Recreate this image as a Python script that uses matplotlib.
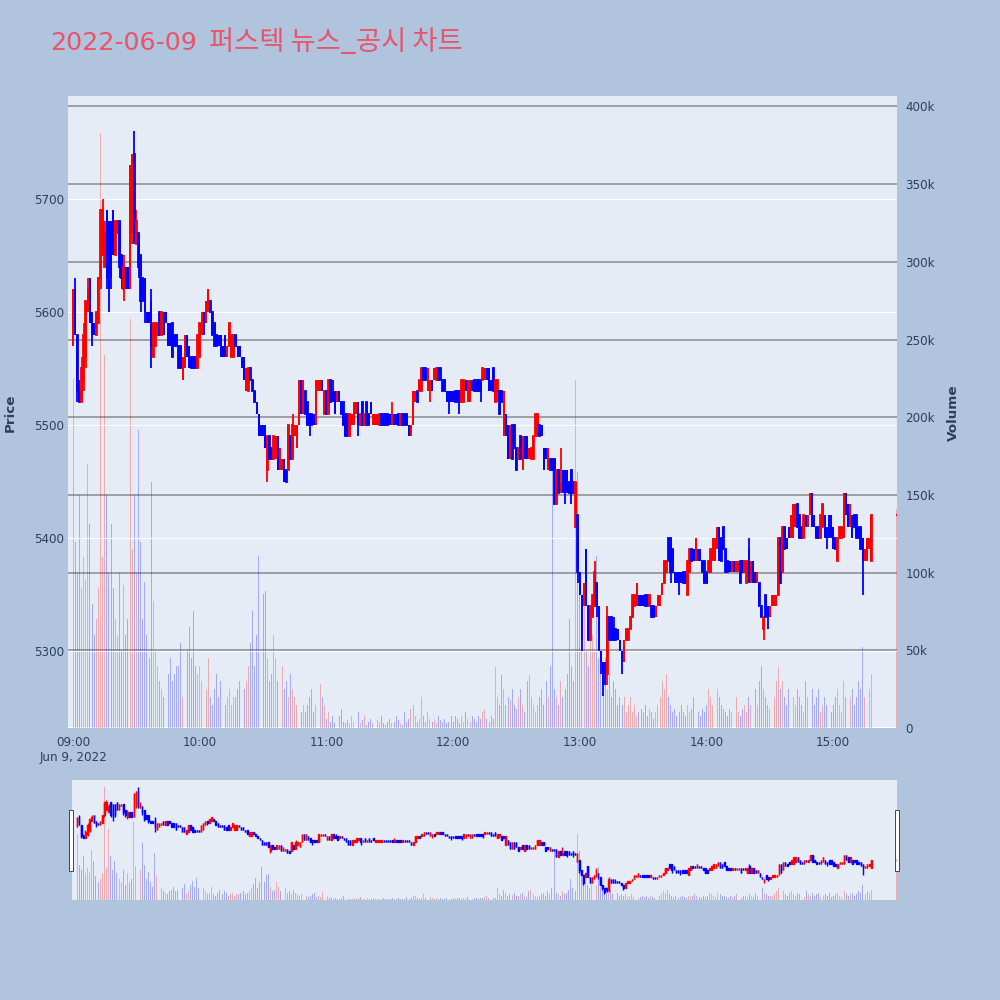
import matplotlib
matplotlib.use("Agg")
import matplotlib.pyplot as plt
from matplotlib.patches import Rectangle

plt.rcParams['font.family'] = ['DejaVu Sans', 'Noto Sans CJK KR']

title_date = "2022-06-09"
title_name = "퍼스텍 뉴스_공시 차트"

# minutes after 09:00 (continuous session 09:00-15:18, closing auction 15:30)
minutes = list(range(379)) + [390]

opens = [
    5570, 5620, 5580, 5530, 5520, 5540, 5560, 5600, 5630, 5600,  # 09:00
    5590, 5580, 5590, 5630, 5650, 5640, 5690, 5680, 5680, 5690,  # 09:10
    5650, 5670, 5680, 5650, 5620, 5640, 5640, 5620, 5670, 5740,  # 09:20
    5660, 5670, 5650, 5630, 5630, 5600, 5600, 5610, 5560, 5570,  # 09:30
    5580, 5600, 5580, 5600, 5600, 5590, 5590, 5590, 5580, 5580,  # 09:40
    5570, 5570, 5540, 5550, 5580, 5570, 5560, 5560, 5560, 5550,  # 09:50
    5560, 5580, 5600, 5590, 5600, 5610, 5600, 5590, 5580, 5580,  # 10:00
    5580, 5570, 5580, 5560, 5570, 5560, 5560, 5580, 5570, 5570,  # 10:10
    5560, 5560, 5530, 5530, 5550, 5540, 5530, 5520, 5510, 5500,  # 10:20
    5500, 5500, 5460, 5490, 5480, 5470, 5470, 5490, 5460, 5460,  # 10:30
    5470, 5460, 5460, 5490, 5470, 5490, 5480, 5500, 5540, 5510,  # 10:40
    5530, 5520, 5510, 5510, 5510, 5500, 5530, 5530, 5540, 5510,  # 10:50
    5530, 5510, 5540, 5530, 5530, 5520, 5530, 5520, 5520, 5510,  # 11:00
    5510, 5490, 5500, 5500, 5510, 5520, 5500, 5520, 5500, 5520,  # 11:10
    5510, 5520, 5500, 5500, 5500, 5500, 5510, 5510, 5510, 5510,  # 11:20
    5510, 5500, 5510, 5510, 5510, 5500, 5510, 5510, 5510, 5500,  # 11:30
    5490, 5500, 5520, 5530, 5530, 5530, 5550, 5550, 5530, 5530,  # 11:40
    5540, 5540, 5540, 5550, 5550, 5540, 5540, 5530, 5530, 5530,  # 11:50
    5530, 5530, 5530, 5530, 5520, 5520, 5540, 5520, 5520, 5540,  # 12:00
    5540, 5540, 5540, 5540, 5540, 5540, 5550, 5550, 5540, 5550,  # 12:10
    5520, 5530, 5530, 5530, 5490, 5510, 5500, 5470, 5500, 5500,  # 12:20
    5480, 5470, 5490, 5460, 5490, 5490, 5470, 5470, 5470, 5490,  # 12:30
    5490, 5500, 5500, 5480, 5480, 5460, 5470, 5470, 5470, 5430,  # 12:40
    5460, 5440, 5460, 5460, 5460, 5450, 5460, 5450, 5410, 5420,  # 12:50
    5370, 5350, 5340, 5390, 5340, 5310, 5330, 5340, 5360, 5340,  # 13:00
    5300, 5290, 5290, 5280, 5330, 5330, 5320, 5320, 5320, 5310,  # 13:10
    5300, 5290, 5310, 5310, 5320, 5330, 5340, 5340, 5350, 5350,  # 13:20
    5350, 5350, 5350, 5340, 5340, 5340, 5330, 5340, 5340, 5350,  # 13:30
    5360, 5370, 5400, 5400, 5390, 5370, 5370, 5370, 5370, 5370,  # 13:40
    5370, 5350, 5370, 5390, 5390, 5380, 5390, 5390, 5380, 5380,  # 13:50
    5370, 5370, 5370, 5380, 5380, 5390, 5410, 5400, 5410, 5390,  # 14:00
    5380, 5380, 5370, 5380, 5370, 5370, 5380, 5380, 5370, 5360,  # 14:10
    5390, 5360, 5380, 5370, 5360, 5360, 5340, 5320, 5350, 5340,  # 14:20
    5330, 5340, 5340, 5340, 5350, 5400, 5370, 5410, 5400, 5410,  # 14:30
    5400, 5400, 5410, 5430, 5420, 5410, 5400, 5420, 5410, 5420,  # 14:40
    5440, 5420, 5410, 5410, 5400, 5410, 5420, 5410, 5420, 5420,  # 14:50
    5410, 5400, 5380, 5400, 5400, 5400, 5440, 5430, 5410, 5420,  # 15:00
    5420, 5420, 5410, 5410, 5400, 5380, 5380, 5390, 5380,        # 15:10
    5420,                                                        # 15:30
]
highs = [
    5620, 5630, 5580, 5540, 5560, 5590, 5610, 5630, 5630, 5600,
    5590, 5600, 5630, 5690, 5700, 5680, 5690, 5680, 5680, 5690,
    5680, 5680, 5680, 5650, 5650, 5640, 5640, 5730, 5740, 5760,
    5690, 5670, 5650, 5630, 5630, 5600, 5600, 5620, 5590, 5590,
    5590, 5600, 5600, 5600, 5600, 5590, 5590, 5590, 5580, 5580,
    5570, 5570, 5560, 5580, 5580, 5570, 5560, 5560, 5560, 5580,
    5590, 5600, 5600, 5610, 5620, 5610, 5600, 5590, 5580, 5580,
    5580, 5570, 5580, 5570, 5590, 5580, 5580, 5580, 5570, 5570,
    5560, 5560, 5550, 5550, 5550, 5540, 5530, 5520, 5510, 5500,
    5500, 5500, 5490, 5490, 5480, 5490, 5490, 5490, 5480, 5470,
    5470, 5460, 5500, 5490, 5510, 5500, 5500, 5540, 5540, 5540,
    5530, 5520, 5510, 5510, 5510, 5540, 5540, 5540, 5540, 5530,
    5530, 5540, 5540, 5540, 5530, 5530, 5530, 5520, 5520, 5510,
    5510, 5510, 5510, 5520, 5520, 5520, 5510, 5520, 5510, 5520,
    5510, 5520, 5510, 5510, 5510, 5510, 5510, 5510, 5510, 5510,
    5510, 5520, 5510, 5510, 5510, 5510, 5510, 5510, 5510, 5500,
    5500, 5530, 5530, 5530, 5540, 5550, 5550, 5550, 5550, 5540,
    5540, 5550, 5550, 5550, 5550, 5540, 5540, 5530, 5530, 5530,
    5530, 5530, 5530, 5530, 5540, 5540, 5540, 5540, 5540, 5540,
    5540, 5540, 5540, 5540, 5550, 5550, 5550, 5550, 5540, 5550,
    5540, 5540, 5530, 5530, 5530, 5510, 5500, 5500, 5500, 5500,
    5480, 5480, 5490, 5490, 5490, 5490, 5480, 5480, 5490, 5510,
    5510, 5500, 5500, 5480, 5480, 5480, 5470, 5470, 5470, 5460,
    5460, 5480, 5460, 5460, 5460, 5450, 5460, 5450, 5450, 5420,
    5370, 5350, 5360, 5390, 5340, 5340, 5350, 5380, 5360, 5340,
    5300, 5290, 5290, 5340, 5330, 5330, 5330, 5320, 5320, 5310,
    5300, 5310, 5320, 5320, 5330, 5350, 5350, 5360, 5350, 5350,
    5350, 5350, 5350, 5350, 5340, 5340, 5340, 5350, 5350, 5360,
    5380, 5380, 5400, 5400, 5390, 5370, 5370, 5370, 5370, 5370,
    5370, 5380, 5390, 5390, 5390, 5400, 5390, 5390, 5380, 5380,
    5370, 5380, 5390, 5400, 5400, 5410, 5410, 5400, 5410, 5390,
    5380, 5380, 5380, 5380, 5380, 5380, 5380, 5380, 5380, 5380,
    5400, 5380, 5380, 5370, 5370, 5360, 5340, 5330, 5350, 5340,
    5340, 5350, 5350, 5350, 5400, 5400, 5410, 5410, 5400, 5410,
    5420, 5430, 5430, 5430, 5420, 5410, 5420, 5420, 5420, 5440,
    5440, 5420, 5410, 5410, 5420, 5430, 5420, 5410, 5420, 5420,
    5410, 5400, 5400, 5410, 5410, 5440, 5440, 5430, 5430, 5420,
    5420, 5420, 5410, 5410, 5400, 5390, 5400, 5400, 5420,
    5420,
]
lows = [
    5570, 5580, 5520, 5520, 5520, 5530, 5550, 5600, 5590, 5570,
    5580, 5580, 5590, 5620, 5650, 5640, 5620, 5600, 5620, 5650,
    5650, 5670, 5630, 5620, 5610, 5620, 5620, 5620, 5660, 5660,
    5660, 5630, 5600, 5610, 5590, 5590, 5590, 5550, 5560, 5570,
    5580, 5580, 5580, 5580, 5590, 5570, 5570, 5560, 5570, 5570,
    5550, 5550, 5540, 5550, 5560, 5550, 5550, 5550, 5550, 5550,
    5560, 5580, 5580, 5590, 5600, 5600, 5580, 5570, 5570, 5570,
    5560, 5560, 5560, 5560, 5570, 5560, 5560, 5570, 5560, 5560,
    5550, 5540, 5530, 5530, 5540, 5530, 5520, 5510, 5490, 5490,
    5490, 5480, 5450, 5470, 5470, 5470, 5470, 5460, 5460, 5460,
    5450, 5450, 5460, 5470, 5470, 5490, 5480, 5500, 5510, 5510,
    5510, 5500, 5490, 5500, 5500, 5500, 5530, 5530, 5530, 5510,
    5510, 5510, 5520, 5520, 5510, 5520, 5520, 5510, 5500, 5490,
    5490, 5490, 5500, 5500, 5510, 5490, 5500, 5500, 5500, 5500,
    5500, 5510, 5500, 5500, 5500, 5500, 5500, 5500, 5500, 5500,
    5500, 5500, 5500, 5500, 5500, 5500, 5500, 5500, 5500, 5490,
    5490, 5500, 5520, 5520, 5530, 5530, 5540, 5540, 5530, 5520,
    5530, 5540, 5540, 5540, 5540, 5530, 5530, 5520, 5510, 5520,
    5520, 5520, 5520, 5510, 5520, 5520, 5530, 5520, 5520, 5530,
    5530, 5530, 5530, 5520, 5540, 5540, 5540, 5530, 5530, 5530,
    5520, 5520, 5510, 5520, 5490, 5490, 5470, 5470, 5470, 5480,
    5460, 5470, 5470, 5460, 5470, 5470, 5470, 5470, 5470, 5490,
    5490, 5490, 5490, 5460, 5470, 5460, 5460, 5460, 5430, 5430,
    5440, 5440, 5440, 5430, 5440, 5440, 5430, 5440, 5410, 5360,
    5350, 5300, 5340, 5340, 5310, 5310, 5330, 5340, 5330, 5300,
    5280, 5260, 5270, 5270, 5310, 5310, 5310, 5310, 5310, 5300,
    5280, 5290, 5310, 5310, 5320, 5330, 5340, 5340, 5340, 5340,
    5340, 5340, 5340, 5340, 5330, 5330, 5330, 5340, 5340, 5350,
    5360, 5370, 5380, 5360, 5370, 5360, 5360, 5350, 5360, 5360,
    5360, 5350, 5370, 5380, 5380, 5380, 5380, 5380, 5370, 5360,
    5360, 5370, 5370, 5380, 5380, 5390, 5380, 5380, 5390, 5370,
    5370, 5370, 5370, 5370, 5370, 5370, 5360, 5370, 5370, 5360,
    5360, 5360, 5360, 5360, 5360, 5340, 5330, 5310, 5330, 5320,
    5330, 5340, 5340, 5340, 5350, 5360, 5370, 5390, 5390, 5400,
    5400, 5400, 5410, 5410, 5400, 5400, 5400, 5410, 5410, 5420,
    5410, 5410, 5400, 5400, 5400, 5410, 5400, 5390, 5400, 5400,
    5390, 5390, 5380, 5400, 5400, 5400, 5420, 5410, 5410, 5400,
    5410, 5400, 5400, 5390, 5350, 5380, 5380, 5390, 5380,
    5420,
]
closes = [
    5620, 5580, 5530, 5520, 5550, 5580, 5610, 5620, 5590, 5580,
    5580, 5600, 5630, 5690, 5690, 5670, 5630, 5620, 5630, 5650,
    5680, 5680, 5640, 5630, 5640, 5620, 5620, 5730, 5740, 5670,
    5680, 5640, 5610, 5610, 5600, 5590, 5590, 5570, 5590, 5590,
    5590, 5580, 5600, 5580, 5590, 5570, 5570, 5560, 5570, 5570,
    5550, 5550, 5560, 5580, 5560, 5550, 5550, 5550, 5550, 5580,
    5590, 5600, 5590, 5610, 5620, 5600, 5580, 5570, 5570, 5570,
    5560, 5560, 5560, 5570, 5590, 5580, 5580, 5570, 5560, 5560,
    5550, 5540, 5550, 5550, 5540, 5530, 5520, 5510, 5490, 5490,
    5490, 5480, 5490, 5470, 5470, 5490, 5490, 5460, 5480, 5470,
    5450, 5450, 5500, 5470, 5500, 5500, 5500, 5540, 5510, 5540,
    5510, 5500, 5500, 5500, 5500, 5540, 5540, 5540, 5530, 5530,
    5510, 5540, 5520, 5520, 5510, 5530, 5520, 5510, 5500, 5490,
    5490, 5510, 5510, 5520, 5520, 5500, 5510, 5500, 5510, 5500,
    5500, 5510, 5510, 5510, 5510, 5510, 5500, 5500, 5500, 5500,
    5500, 5510, 5500, 5500, 5500, 5510, 5500, 5500, 5500, 5490,
    5500, 5530, 5530, 5520, 5540, 5550, 5540, 5540, 5550, 5540,
    5530, 5550, 5550, 5540, 5540, 5530, 5530, 5520, 5520, 5520,
    5520, 5520, 5520, 5520, 5540, 5540, 5530, 5540, 5540, 5530,
    5530, 5530, 5530, 5530, 5550, 5550, 5540, 5530, 5530, 5530,
    5540, 5540, 5510, 5520, 5530, 5490, 5470, 5500, 5470, 5480,
    5460, 5480, 5470, 5490, 5470, 5470, 5480, 5480, 5490, 5510,
    5510, 5490, 5490, 5460, 5470, 5480, 5460, 5460, 5430, 5460,
    5440, 5450, 5440, 5440, 5440, 5440, 5440, 5440, 5450, 5370,
    5350, 5310, 5360, 5340, 5310, 5340, 5350, 5370, 5340, 5300,
    5290, 5270, 5280, 5330, 5310, 5310, 5310, 5310, 5310, 5300,
    5290, 5310, 5320, 5320, 5330, 5350, 5350, 5360, 5340, 5340,
    5340, 5340, 5340, 5350, 5330, 5330, 5340, 5350, 5350, 5360,
    5380, 5380, 5380, 5370, 5370, 5360, 5360, 5360, 5360, 5360,
    5360, 5380, 5390, 5380, 5380, 5400, 5380, 5380, 5370, 5360,
    5360, 5380, 5390, 5400, 5400, 5410, 5380, 5380, 5390, 5370,
    5370, 5370, 5380, 5370, 5380, 5380, 5360, 5370, 5380, 5380,
    5360, 5380, 5360, 5360, 5370, 5340, 5330, 5330, 5330, 5330,
    5340, 5350, 5350, 5350, 5400, 5360, 5410, 5390, 5390, 5400,
    5420, 5430, 5430, 5410, 5400, 5400, 5420, 5410, 5420, 5440,
    5410, 5410, 5400, 5400, 5420, 5430, 5400, 5400, 5400, 5400,
    5390, 5390, 5400, 5410, 5410, 5440, 5420, 5410, 5430, 5400,
    5410, 5400, 5400, 5390, 5380, 5390, 5400, 5400, 5420,
    5420,
]
# volume in thousands of shares
volume_k = [
    225, 120, 100, 150, 90, 110, 95, 170, 131, 80,
    60, 70, 90, 383, 110, 240, 150, 100, 131, 90,
    70, 60, 100, 50, 92, 60, 70, 263, 115, 150,
    100, 192, 120, 70, 94, 60, 45, 158, 82, 50,
    40, 30, 25, 20, 30, 35, 45, 30, 35, 40,
    40, 55, 20, 30, 50, 65, 45, 75, 40, 35,
    40, 30, 20, 25, 45, 20, 15, 25, 35, 20,
    30, 25, 15, 20, 25, 15, 20, 20, 25, 30,
    20, 25, 30, 40, 55, 75, 40, 60, 111, 60,
    86, 88, 45, 30, 35, 60, 45, 30, 35, 40,
    25, 30, 20, 35, 25, 20, 15, 20, 10, 15,
    10, 15, 20, 25, 10, 15, 10, 28, 20, 15,
    6, 10, 4, 8, 3, 5, 8, 12, 4, 3,
    5, 3, 8, 4, 6, 10, 3, 5, 8, 2,
    4, 6, 3, 2, 5, 4, 8, 3, 2, 4,
    6, 3, 4, 8, 5, 3, 2, 10, 4, 6,
    12, 15, 8, 4, 6, 20, 8, 4, 10, 6,
    4, 6, 3, 8, 5, 4, 6, 3, 4, 8,
    4, 8, 6, 3, 8, 4, 10, 6, 4, 8,
    6, 4, 8, 6, 10, 12, 6, 4, 8, 6,
    39, 20, 15, 34, 25, 15, 20, 18, 25, 15,
    12, 20, 25, 15, 10, 30, 34, 20, 15, 10,
    15, 20, 25, 15, 30, 20, 40, 166, 25, 20,
    15, 30, 20, 25, 35, 70, 40, 30, 224, 165,
    95, 60, 80, 50, 40, 70, 60, 50, 111, 45,
    40, 30, 45, 25, 35, 20, 30, 25, 15, 20,
    15, 20, 10, 15, 20, 10, 15, 8, 10, 12,
    10, 15, 8, 12, 10, 6, 10, 15, 20, 30,
    25, 35, 20, 15, 10, 12, 8, 10, 15, 10,
    8, 15, 10, 12, 20, 15, 10, 8, 12, 10,
    15, 25, 20, 15, 10, 25, 20, 15, 12, 10,
    8, 12, 10, 15, 20, 10, 8, 12, 15, 10,
    20, 15, 10, 25, 15, 30, 40, 25, 20, 15,
    12, 15, 20, 30, 39, 25, 30, 20, 15, 25,
    30, 20, 15, 25, 20, 15, 10, 30, 20, 15,
    25, 15, 20, 25, 10, 15, 20, 15, 25, 10,
    15, 20, 25, 15, 10, 30, 20, 15, 20, 25,
    15, 20, 30, 25, 52, 20, 30, 25, 35,
    141,
]

tick_minutes = [0, 60, 120, 180, 240, 300, 360]
tick_labels = ["09:00\nJun 9, 2022", "10:00", "11:00", "12:00", "13:00", "14:00", "15:00"]
price_ticks = [5300, 5400, 5500, 5600, 5700]
volume_ticks = [0, 50000, 100000, 150000, 200000, 250000, 300000, 350000, 400000]
volume_labels = ["0", "50k", "100k", "150k", "200k", "250k", "300k", "350k", "400k"]

volumes = [v * 1000 for v in volume_k]

UP = "#ff0000"
DOWN = "#0000ff"
colors = []
prev = opens[0]
for o, c in zip(opens, closes):
    colors.append(UP if (c > o or (c == o and c >= prev)) else DOWN)
    prev = c
vol_colors = [(1, 0, 0, 0.28) if col == UP else (0, 0, 1, 0.28) for col in colors]

body_bottom = [min(o, c) for o, c in zip(opens, closes)]
body_height = [abs(c - o) for o, c in zip(opens, closes)]

TXT = "#2a3f5f"
XLIM = (-2.4, 390.2)
PLIM = (5232, 5791)
VLIM = (0, 406700)


def draw(ax, ax_v, lw):
    ax_v.bar(minutes, volumes, width=0.45, color=vol_colors, linewidth=0, zorder=2)
    ax.vlines(minutes, lows, highs, colors=colors, linewidth=lw, zorder=3)
    ax.bar(minutes, body_height, bottom=body_bottom, width=0.25, color=colors,
           edgecolor=colors, linewidth=lw, zorder=3)
    ax.set_xlim(*XLIM)
    ax.set_ylim(*PLIM)
    ax_v.set_ylim(*VLIM)
    ax.set_zorder(ax_v.get_zorder() + 1)
    ax.patch.set_visible(False)
    ax_v.patch.set_visible(True)
    ax_v.set_facecolor("#e5ecf6")
    for a in (ax, ax_v):
        for s in a.spines.values():
            s.set_visible(False)


fig = plt.figure(figsize=(10, 10), dpi=100, facecolor="#b0c4de")

ax = fig.add_axes([0.068, 0.272, 0.829, 0.632])
ax_v = ax.twinx()
draw(ax, ax_v, 1.3)

ax.set_yticks(price_ticks)
ax.grid(axis="y", color="white", linewidth=0.8, zorder=0)
ax.set_axisbelow(True)
ax_v.set_yticks(volume_ticks, volume_labels)
ax_v.grid(axis="y", color="#8a8a8a", linewidth=1.1, zorder=0)
ax_v.set_axisbelow(True)
ax_v.axhline(0, color="white", linewidth=1.5, zorder=1)
ax.set_xticks(tick_minutes, tick_labels)
ax.tick_params(axis="y", length=0, pad=3, labelsize=8.6, labelcolor=TXT)
ax.tick_params(axis="x", length=0, pad=6, labelsize=8.6, labelcolor=TXT)
ax_v.tick_params(axis="y", length=0, pad=6, labelsize=8.6, labelcolor=TXT)

# range slider
ax_s = fig.add_axes([0.072, 0.100, 0.825, 0.120])
ax_sv = ax_s.twinx()
draw(ax_s, ax_sv, 1.0)
for a in (ax_s, ax_sv):
    a.set_xticks([])
    a.set_yticks([])

for hx in (0.069, 0.895):
    fig.add_artist(Rectangle((hx, 0.129), 0.004, 0.061, transform=fig.transFigure,
                             facecolor="white", edgecolor="#444444", linewidth=0.7))

fig.text(0.05, 0.950, title_date, fontsize=18.2, color="#e9536b", ha="left", va="baseline")
fig.text(0.209, 0.950, title_name, fontsize=19.7, color="#e9536b", ha="left", va="baseline",
         family=["Noto Sans CJK KR", "DejaVu Sans"])
fig.text(0.010, 0.587, "Price", rotation=90, fontsize=9.7, fontweight="bold",
         color=TXT, ha="center", va="center")
fig.text(0.953, 0.587, "Volume", rotation=90, fontsize=9.7, fontweight="bold",
         color=TXT, ha="center", va="center")

fig.savefig("out.png", dpi=100, facecolor=fig.get_facecolor())
